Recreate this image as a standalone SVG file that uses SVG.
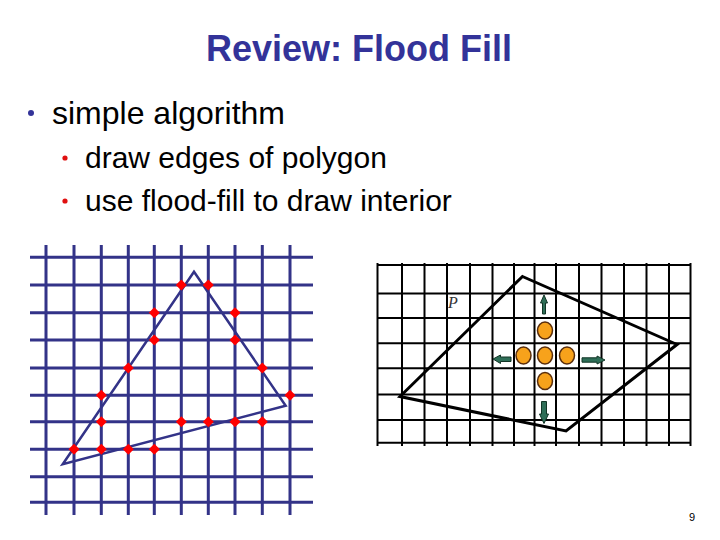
<svg xmlns="http://www.w3.org/2000/svg" width="720" height="540" viewBox="0 0 720 540">
<style>
  text { font-family: "Liberation Sans", Arial, sans-serif; }
  .title { font-size: 36px; font-weight: bold; fill: #333399; }
  .b1 { font-size: 32px; fill: #000; }
  .b2 { font-size: 30px; fill: #000; }
  .plabel { font-family: "Liberation Serif", "Times New Roman", serif; font-style: italic; font-size: 16px; fill: #333; }
  .lg { stroke: #333388; stroke-width: 3; fill: none; }
  .tri { stroke: #333388; stroke-width: 2.5; fill: none; stroke-linejoin: miter; }
  .rg { stroke: #000; stroke-width: 2; fill: none; }
  .poly { stroke: #000; stroke-width: 3; fill: none; stroke-linejoin: miter; }
  .seed { fill: #f7a21b; stroke: #5a2e0c; stroke-width: 1.5; }
  .arr { fill: #2e6e57; stroke: #123526; stroke-width: 1; stroke-linejoin: miter; }
  .px { fill: #ff0000; }
</style>
<defs>
  <path id="dia" d="M0,-5.5 L5.5,0 L0,5.5 L-5.5,0 Z"/>
</defs>
<rect width="720" height="540" fill="#fff"/>

<g id="title"><text class="title" x="359" y="61" text-anchor="middle">Review: Flood Fill</text></g>

<g id="bullets">
  <circle cx="31" cy="113" r="3" fill="#333399"/>
  <text class="b1" x="52" y="124">simple algorithm</text>
  <circle cx="65" cy="158" r="2.6" fill="#e01010"/>
  <text class="b2" x="85" y="168">draw edges of polygon</text>
  <circle cx="65" cy="201" r="2.6" fill="#e01010"/>
  <text class="b2" x="85" y="211">use flood-fill to draw interior</text>
</g>

<g id="left-grid" class="lg">
  <line x1="46" y1="245" x2="46" y2="515"/>
  <line x1="74" y1="245" x2="74" y2="515"/>
  <line x1="101.3" y1="245" x2="101.3" y2="515"/>
  <line x1="128.3" y1="245" x2="128.3" y2="515"/>
  <line x1="154.3" y1="245" x2="154.3" y2="515"/>
  <line x1="181.3" y1="245" x2="181.3" y2="515"/>
  <line x1="208.3" y1="245" x2="208.3" y2="515"/>
  <line x1="235" y1="245" x2="235" y2="515"/>
  <line x1="262.3" y1="245" x2="262.3" y2="515"/>
  <line x1="290" y1="245" x2="290" y2="515"/>
  <line x1="30" y1="257.3" x2="313" y2="257.3"/>
  <line x1="30" y1="285" x2="313" y2="285"/>
  <line x1="30" y1="312.7" x2="313" y2="312.7"/>
  <line x1="30" y1="340" x2="313" y2="340"/>
  <line x1="30" y1="368" x2="313" y2="368"/>
  <line x1="30" y1="395.3" x2="313" y2="395.3"/>
  <line x1="30" y1="421.7" x2="313" y2="421.7"/>
  <line x1="30" y1="449.3" x2="313" y2="449.3"/>
  <line x1="30" y1="476.7" x2="313" y2="476.7"/>
  <line x1="30" y1="502.3" x2="313" y2="502.3"/>
</g>

<g id="triangle"><polygon class="tri" points="194,271.7 285.7,405.7 62.7,464.3"/></g>

<g id="edge-pixels" class="px">
  <use href="#dia" x="181.3" y="285"/>
  <use href="#dia" x="208.3" y="285"/>
  <use href="#dia" x="154.3" y="312.7"/>
  <use href="#dia" x="235" y="312.7"/>
  <use href="#dia" x="154.3" y="340"/>
  <use href="#dia" x="235" y="340"/>
  <use href="#dia" x="128.3" y="368"/>
  <use href="#dia" x="262.3" y="368"/>
  <use href="#dia" x="101.3" y="395.3"/>
  <use href="#dia" x="290" y="395.3"/>
  <use href="#dia" x="101.3" y="421.7"/>
  <use href="#dia" x="181.3" y="421.7"/>
  <use href="#dia" x="208.3" y="421.7"/>
  <use href="#dia" x="235" y="421.7"/>
  <use href="#dia" x="262.3" y="421.7"/>
  <use href="#dia" x="74" y="449.3"/>
  <use href="#dia" x="101.3" y="449.3"/>
  <use href="#dia" x="128.3" y="449.3"/>
  <use href="#dia" x="154.3" y="449.3"/>
</g>

<g id="right-grid" class="rg">
  <line x1="377.5" y1="263" x2="377.5" y2="446"/>
  <line x1="402" y1="263" x2="402" y2="446"/>
  <line x1="424.5" y1="263" x2="424.5" y2="446"/>
  <line x1="447" y1="263" x2="447" y2="446"/>
  <line x1="470" y1="263" x2="470" y2="446"/>
  <line x1="492.5" y1="263" x2="492.5" y2="446"/>
  <line x1="514" y1="263" x2="514" y2="446"/>
  <line x1="534.5" y1="263" x2="534.5" y2="446"/>
  <line x1="556" y1="263" x2="556" y2="446"/>
  <line x1="579" y1="263" x2="579" y2="446"/>
  <line x1="601.5" y1="263" x2="601.5" y2="446"/>
  <line x1="624" y1="263" x2="624" y2="446"/>
  <line x1="646.5" y1="263" x2="646.5" y2="446"/>
  <line x1="669" y1="263" x2="669" y2="446"/>
  <line x1="690.5" y1="263" x2="690.5" y2="446"/>
  <line x1="377.5" y1="265" x2="690.5" y2="265"/>
  <line x1="377.5" y1="293.5" x2="690.5" y2="293.5"/>
  <line x1="377.5" y1="318" x2="690.5" y2="318"/>
  <line x1="377.5" y1="343.3" x2="690.5" y2="343.3"/>
  <line x1="377.5" y1="368.3" x2="690.5" y2="368.3"/>
  <line x1="377.5" y1="394.5" x2="690.5" y2="394.5"/>
  <line x1="377.5" y1="420" x2="690.5" y2="420"/>
  <line x1="377.5" y1="442.7" x2="690.5" y2="442.7"/>
</g>

<g id="polygon-P">
  <polygon class="poly" points="522.5,276.5 677,344.5 566,431 400,396.5"/>
  <text class="plabel" x="448" y="308">P</text>
</g>

<g id="seeds">
  <ellipse class="seed" cx="545" cy="330.5" rx="7.5" ry="8.5"/>
  <ellipse class="seed" cx="523.5" cy="355.5" rx="7.5" ry="8.5"/>
  <ellipse class="seed" cx="545" cy="355.5" rx="7.5" ry="8.5"/>
  <ellipse class="seed" cx="567" cy="355.5" rx="7.5" ry="8.5"/>
  <ellipse class="seed" cx="545" cy="381" rx="7.5" ry="8.5"/>
</g>

<g id="arrows">
  <polygon class="arr" points="544,295 547.5,303 545.5,303 545.5,314 542.5,314 542.5,303 540.5,303"/>
  <polygon class="arr" points="541.5,401.5 546.5,401.5 546.5,414 548.5,414 544,423.5 539.5,414 541.5,414"/>
  <polygon class="arr" points="493,359 500.5,355 500.5,357 511,357 511,361.5 500.5,361.5 500.5,363.5"/>
  <polygon class="arr" points="582,357.8 597,357.8 597,356 605,360 597,364 597,362.2 582,362.2"/>
</g>

<g id="page-number"><text x="692" y="521" font-size="11" text-anchor="middle" fill="#000">9</text></g>
</svg>
